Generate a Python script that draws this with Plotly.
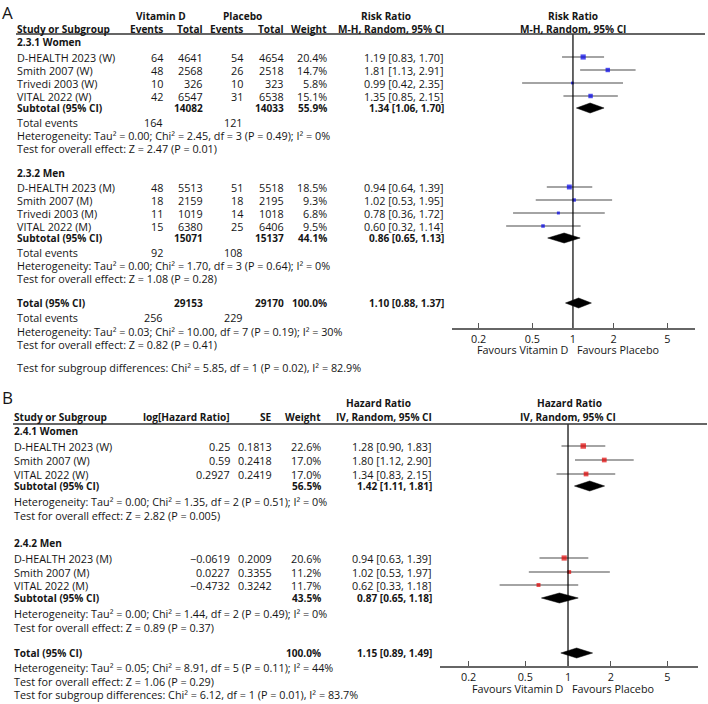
import math
import plotly.graph_objects as go

W, H = 708, 704
FONT = "Open Sans"
FS = 10.8      # regular text
FB = 10.1      # bold text
TXT = "#151515"

# ---------------- Panel A data (Risk Ratio, M-H random) ----------------
a_w_study = ["D-HEALTH 2023 (W)", "Smith 2007 (W)", "Trivedi 2003 (W)", "VITAL 2022 (W)"]
a_w_vd_events = [64, 48, 10, 42]
a_w_vd_total = [4641, 2568, 326, 6547]
a_w_pl_events = [54, 26, 10, 31]
a_w_pl_total = [4654, 2518, 323, 6538]
a_w_weight = [20.4, 14.7, 5.8, 15.1]
a_w_rr = [1.19, 1.81, 0.99, 1.35]
a_w_lo = [0.83, 1.13, 0.42, 0.85]
a_w_hi = [1.70, 2.91, 2.35, 2.15]
a_w_sub = dict(vd_total=14082, pl_total=14033, weight=55.9, rr=1.34, lo=1.06, hi=1.70,
               vd_events=164, pl_events=121)
a_w_het = "Heterogeneity: Tau² = 0.00; Chi² = 2.45, df = 3 (P = 0.49); I² = 0%"
a_w_test = "Test for overall effect: Z = 2.47 (P = 0.01)"

a_m_study = ["D-HEALTH 2023 (M)", "Smith 2007 (M)", "Trivedi 2003 (M)", "VITAL 2022 (M)"]
a_m_vd_events = [48, 18, 11, 15]
a_m_vd_total = [5513, 2159, 1019, 6380]
a_m_pl_events = [51, 18, 14, 25]
a_m_pl_total = [5518, 2195, 1018, 6406]
a_m_weight = [18.5, 9.3, 6.8, 9.5]
a_m_rr = [0.94, 1.02, 0.78, 0.60]
a_m_lo = [0.64, 0.53, 0.36, 0.32]
a_m_hi = [1.39, 1.95, 1.72, 1.14]
a_m_sub = dict(vd_total=15071, pl_total=15137, weight=44.1, rr=0.86, lo=0.65, hi=1.13,
               vd_events=92, pl_events=108)
a_m_het = "Heterogeneity: Tau² = 0.00; Chi² = 1.70, df = 3 (P = 0.64); I² = 0%"
a_m_test = "Test for overall effect: Z = 1.08 (P = 0.28)"

a_tot = dict(vd_total=29153, pl_total=29170, weight=100.0, rr=1.10, lo=0.88, hi=1.37,
             vd_events=256, pl_events=229)
a_tot_het = "Heterogeneity: Tau² = 0.03; Chi² = 10.00, df = 7 (P = 0.19); I² = 30%"
a_tot_test = "Test for overall effect: Z = 0.82 (P = 0.41)"
a_sub_diff = "Test for subgroup differences: Chi² = 5.85, df = 1 (P = 0.02), I² = 82.9%"

# ---------------- Panel B data (Hazard Ratio, IV random) ----------------
b_w_study = ["D-HEALTH 2023 (W)", "Smith 2007 (W)", "VITAL 2022 (W)"]
b_w_loghr = ["0.25", "0.59", "0.2927"]
b_w_se = ["0.1813", "0.2418", "0.2419"]
b_w_weight = [22.6, 17.0, 17.0]
b_w_hr = [1.28, 1.80, 1.34]
b_w_lo = [0.90, 1.12, 0.83]
b_w_hi = [1.83, 2.90, 2.15]
b_w_sub = dict(weight=56.5, hr=1.42, lo=1.11, hi=1.81)
b_w_het = "Heterogeneity: Tau² = 0.00; Chi² = 1.35, df = 2 (P = 0.51); I² = 0%"
b_w_test = "Test for overall effect: Z = 2.82 (P = 0.005)"

b_m_study = ["D-HEALTH 2023 (M)", "Smith 2007 (M)", "VITAL 2022 (M)"]
b_m_loghr = ["−0.0619", "0.0227", "−0.4732"]
b_m_se = ["0.2009", "0.3355", "0.3242"]
b_m_weight = [20.6, 11.2, 11.7]
b_m_hr = [0.94, 1.02, 0.62]
b_m_lo = [0.63, 0.53, 0.33]
b_m_hi = [1.39, 1.97, 1.18]
b_m_sub = dict(weight=43.5, hr=0.87, lo=0.65, hi=1.18)
b_m_het = "Heterogeneity: Tau² = 0.00; Chi² = 1.44, df = 2 (P = 0.49); I² = 0%"
b_m_test = "Test for overall effect: Z = 0.89 (P = 0.37)"

b_tot = dict(weight=100.0, hr=1.15, lo=0.89, hi=1.49)
b_tot_het = "Heterogeneity: Tau² = 0.05; Chi² = 8.91, df = 5 (P = 0.11); I² = 44%"
b_tot_test = "Test for overall effect: Z = 1.06 (P = 0.29)"
b_sub_diff = "Test for subgroup differences: Chi² = 6.12, df = 1 (P = 0.01), I² = 83.7%"

tick_vals = [0.2, 0.5, 1, 2, 5]
tick_text = ["0.2", "0.5", "1", "2", "5"]

BLUE = "#0000e8"
RED = "#e00000"

fig = go.Figure()
ann = []


def txt(x, y, s, anchor="left", bold=False, size=None, color=TXT):
    if size is None:
        size = FB if bold else FS
    ann.append(dict(x=x / W, y=y, xref="paper", yref="y",
                    text=f"<b>{s}</b>" if bold else s, showarrow=False,
                    xanchor=anchor, yanchor="middle", borderpad=0, borderwidth=0,
                    font=dict(family=FONT, size=size, color=color)))


def ci(e, l, h):
    return f"{e:.2f} [{l:.2f}, {h:.2f}]"


def forest(xa, ys, est, lo, hi, wts, color):
    xs, yy = [], []
    for y, l, h in zip(ys, lo, hi):
        xs += [l, h, None]
        yy += [y, y, None]
    fig.add_trace(go.Scatter(x=xs, y=yy, xaxis=xa, yaxis="y", mode="lines",
                             line=dict(color="#4a4a4a", width=1.2), hoverinfo="skip",
                             showlegend=False))
    fig.add_trace(go.Scatter(x=est, y=ys, xaxis=xa, yaxis="y", mode="markers",
                             marker=dict(symbol="square", color=color,
                                         size=[1.15 * math.sqrt(w) for w in wts],
                                         line=dict(width=0)),
                             showlegend=False))


def diamond(xa, y, e, l, h, half=5):
    fig.add_trace(go.Scatter(x=[l, e, h, e, l], y=[y, y - half, y, y + half, y],
                             xaxis=xa, yaxis="y", mode="lines", fill="toself",
                             fillcolor="black", line=dict(color="black", width=0.5),
                             hoverinfo="skip", showlegend=False))


def vline(xa, y0, y1):
    fig.add_trace(go.Scatter(x=[1, 1], y=[y0, y1], xaxis=xa, yaxis="y", mode="lines",
                             line=dict(color="black", width=1.2), hoverinfo="skip",
                             showlegend=False))


def hline(x0, x1, y):
    fig.add_shape(type="line", xref="paper", yref="y", x0=x0 / W, x1=x1 / W, y0=y, y1=y,
                  line=dict(color="#333333", width=1.6))


# ================= Panel A =================
A_NAME, A_EV1, A_TOT1, A_EV2, A_TOT2, A_WT, A_EST = 17, 163, 203, 243, 284, 327, 444
txt(2, 12, "A", size=17)
txt(161, 16, "Vitamin D", anchor="center", bold=True)
txt(242, 16, "Placebo", anchor="center", bold=True)
txt(386, 16, "Risk Ratio", anchor="center", bold=True)
txt(573, 16, "Risk Ratio", anchor="center", bold=True)
txt(A_NAME, 29, "Study or Subgroup", bold=True)
txt(A_EV1, 29, "Events", anchor="right", bold=True)
txt(A_TOT1, 29, "Total", anchor="right", bold=True)
txt(A_EV2, 29, "Events", anchor="right", bold=True)
txt(A_TOT2, 29, "Total", anchor="right", bold=True)
txt(A_WT, 29, "Weight", anchor="right", bold=True)
txt(A_EST, 29, "M-H, Random, 95% CI", anchor="right", bold=True)
txt(573, 29, "M-H, Random, 95% CI", anchor="center", bold=True)
hline(16, 705, 34)


def a_group(title, y_title, ys, study, ev1, tot1, ev2, tot2, wt, rr, lo, hi, sub, y_sub,
            het, test, color):
    txt(A_NAME, y_title, title, bold=True)
    for i, y in enumerate(ys):
        txt(A_NAME, y, study[i])
        txt(A_EV1, y, str(ev1[i]), anchor="right")
        txt(A_TOT1, y, str(tot1[i]), anchor="right")
        txt(A_EV2, y, str(ev2[i]), anchor="right")
        txt(A_TOT2, y, str(tot2[i]), anchor="right")
        txt(A_WT, y, f"{wt[i]:.1f}%", anchor="right")
        txt(A_EST, y, ci(rr[i], lo[i], hi[i]), anchor="right")
    txt(A_NAME, y_sub, "Subtotal (95% CI)", bold=True)
    txt(A_TOT1, y_sub, str(sub["vd_total"]), anchor="right", bold=True)
    txt(A_TOT2, y_sub, str(sub["pl_total"]), anchor="right", bold=True)
    txt(A_WT, y_sub, f"{sub['weight']:.1f}%", anchor="right", bold=True)
    txt(A_EST, y_sub, ci(sub["rr"], sub["lo"], sub["hi"]), anchor="right", bold=True)
    txt(A_NAME, y_sub + 14, "Total events")
    txt(A_EV1, y_sub + 14, str(sub["vd_events"]), anchor="right")
    txt(A_EV2, y_sub + 14, str(sub["pl_events"]), anchor="right")
    txt(A_NAME, y_sub + 27, het)
    txt(A_NAME, y_sub + 40, test)
    forest("x", ys, rr, lo, hi, wt, color)
    diamond("x", y_sub, sub["rr"], sub["lo"], sub["hi"])


a_group("2.3.1 Women", 42, [57, 70, 83, 96], a_w_study, a_w_vd_events, a_w_vd_total,
        a_w_pl_events, a_w_pl_total, a_w_weight, a_w_rr, a_w_lo, a_w_hi, a_w_sub, 108,
        a_w_het, a_w_test, BLUE)
a_group("2.3.2 Men", 173, [187, 200, 213, 226], a_m_study, a_m_vd_events, a_m_vd_total,
        a_m_pl_events, a_m_pl_total, a_m_weight, a_m_rr, a_m_lo, a_m_hi, a_m_sub, 238,
        a_m_het, a_m_test, BLUE)

yT = 303
txt(A_NAME, yT, "Total (95% CI)", bold=True)
txt(A_TOT1, yT, str(a_tot["vd_total"]), anchor="right", bold=True)
txt(A_TOT2, yT, str(a_tot["pl_total"]), anchor="right", bold=True)
txt(A_WT, yT, f"{a_tot['weight']:.1f}%", anchor="right", bold=True)
txt(A_EST, yT, ci(a_tot["rr"], a_tot["lo"], a_tot["hi"]), anchor="right", bold=True)
txt(A_NAME, yT + 14, "Total events")
txt(A_EV1, yT + 14, str(a_tot["vd_events"]), anchor="right")
txt(A_EV2, yT + 14, str(a_tot["pl_events"]), anchor="right")
txt(A_NAME, yT + 28, a_tot_het)
txt(A_NAME, yT + 41, a_tot_test)
txt(A_NAME, 367, a_sub_diff)
diamond("x", yT, a_tot["rr"], a_tot["lo"], a_tot["hi"])
vline("x", 34, 329)
txt(569, 349, "Favours Vitamin D", anchor="right")
txt(577, 349, "Favours Placebo", anchor="left")

# ================= Panel B =================
B_NAME, B_LHR, B_SE, B_WT, B_EST = 14, 230, 272, 321, 432
txt(2, 397, "B", size=17)
txt(378, 403, "Hazard Ratio", anchor="center", bold=True)
txt(569, 403, "Hazard Ratio", anchor="center", bold=True)
txt(B_NAME, 417, "Study or Subgroup", bold=True)
txt(B_LHR, 417, "log[Hazard Ratio]", anchor="right", bold=True)
txt(B_SE, 417, "SE", anchor="right", bold=True)
txt(B_WT, 417, "Weight", anchor="right", bold=True)
txt(B_EST, 417, "IV, Random, 95% CI", anchor="right", bold=True)
txt(568, 417, "IV, Random, 95% CI", anchor="center", bold=True)
hline(13, 707, 424)


def b_group(title, y_title, ys, study, lhr, se, wt, hr, lo, hi, sub, y_sub, het, test):
    txt(B_NAME, y_title, title, bold=True)
    for i, y in enumerate(ys):
        txt(B_NAME, y, study[i])
        txt(B_LHR, y, lhr[i], anchor="right")
        txt(B_SE, y, se[i], anchor="right")
        txt(B_WT, y, f"{wt[i]:.1f}%", anchor="right")
        txt(B_EST, y, ci(hr[i], lo[i], hi[i]), anchor="right")
    txt(B_NAME, y_sub, "Subtotal (95% CI)", bold=True)
    txt(B_WT, y_sub, f"{sub['weight']:.1f}%", anchor="right", bold=True)
    txt(B_EST, y_sub, ci(sub["hr"], sub["lo"], sub["hi"]), anchor="right", bold=True)
    txt(B_NAME, y_sub + 15, het)
    txt(B_NAME, y_sub + 29, test)
    forest("x2", ys, hr, lo, hi, wt, RED)
    diamond("x2", y_sub, sub["hr"], sub["lo"], sub["hi"])


b_group("2.4.1 Women", 431, [446, 460, 474], b_w_study, b_w_loghr, b_w_se, b_w_weight,
        b_w_hr, b_w_lo, b_w_hi, b_w_sub, 486, b_w_het, b_w_test)
b_group("2.4.2 Men", 543, [558, 572, 585], b_m_study, b_m_loghr, b_m_se, b_m_weight,
        b_m_hr, b_m_lo, b_m_hi, b_m_sub, 598, b_m_het, b_m_test)

yT = 653
txt(B_NAME, yT, "Total (95% CI)", bold=True)
txt(B_WT, yT, f"{b_tot['weight']:.1f}%", anchor="right", bold=True)
txt(B_EST, yT, ci(b_tot["hr"], b_tot["lo"], b_tot["hi"]), anchor="right", bold=True)
txt(B_NAME, yT + 14, b_tot_het)
txt(B_NAME, yT + 28, b_tot_test)
txt(B_NAME, 694, b_sub_diff)
diamond("x2", yT, b_tot["hr"], b_tot["lo"], b_tot["hi"])
vline("x2", 424, 667)
txt(564, 688, "Favours Vitamin D", anchor="right")
txt(572, 688, "Favours Placebo", anchor="left")

axis_common = dict(type="log", showgrid=False, zeroline=False, showline=True,
                   linecolor="#666666", linewidth=1.5, ticks="inside", ticklen=5,
                   tickcolor="#555555", tickwidth=1, tickvals=tick_vals, ticktext=tick_text,
                   tickfont=dict(family=FONT, size=FS, color=TXT), anchor="free",
                   fixedrange=True)

fig.update_layout(
    width=W, height=H, margin=dict(l=0, r=0, t=0, b=0),
    paper_bgcolor="white", plot_bgcolor="rgba(0,0,0,0)", showlegend=False,
    xaxis=dict(domain=[452 / W, 695 / W], range=[-0.896, 0.904],
               position=1 - 329 / H, **axis_common),
    xaxis2=dict(domain=[440 / W, 698 / W], range=[-0.901, 0.915],
                position=1 - 667 / H, **axis_common),
    yaxis=dict(domain=[0, 1], range=[H, 0], visible=False, fixedrange=True),
    annotations=ann,
)

fig.write_html("out.html", config={"displayModeBar": False},
               post_script="document.body.style.margin='0';")
